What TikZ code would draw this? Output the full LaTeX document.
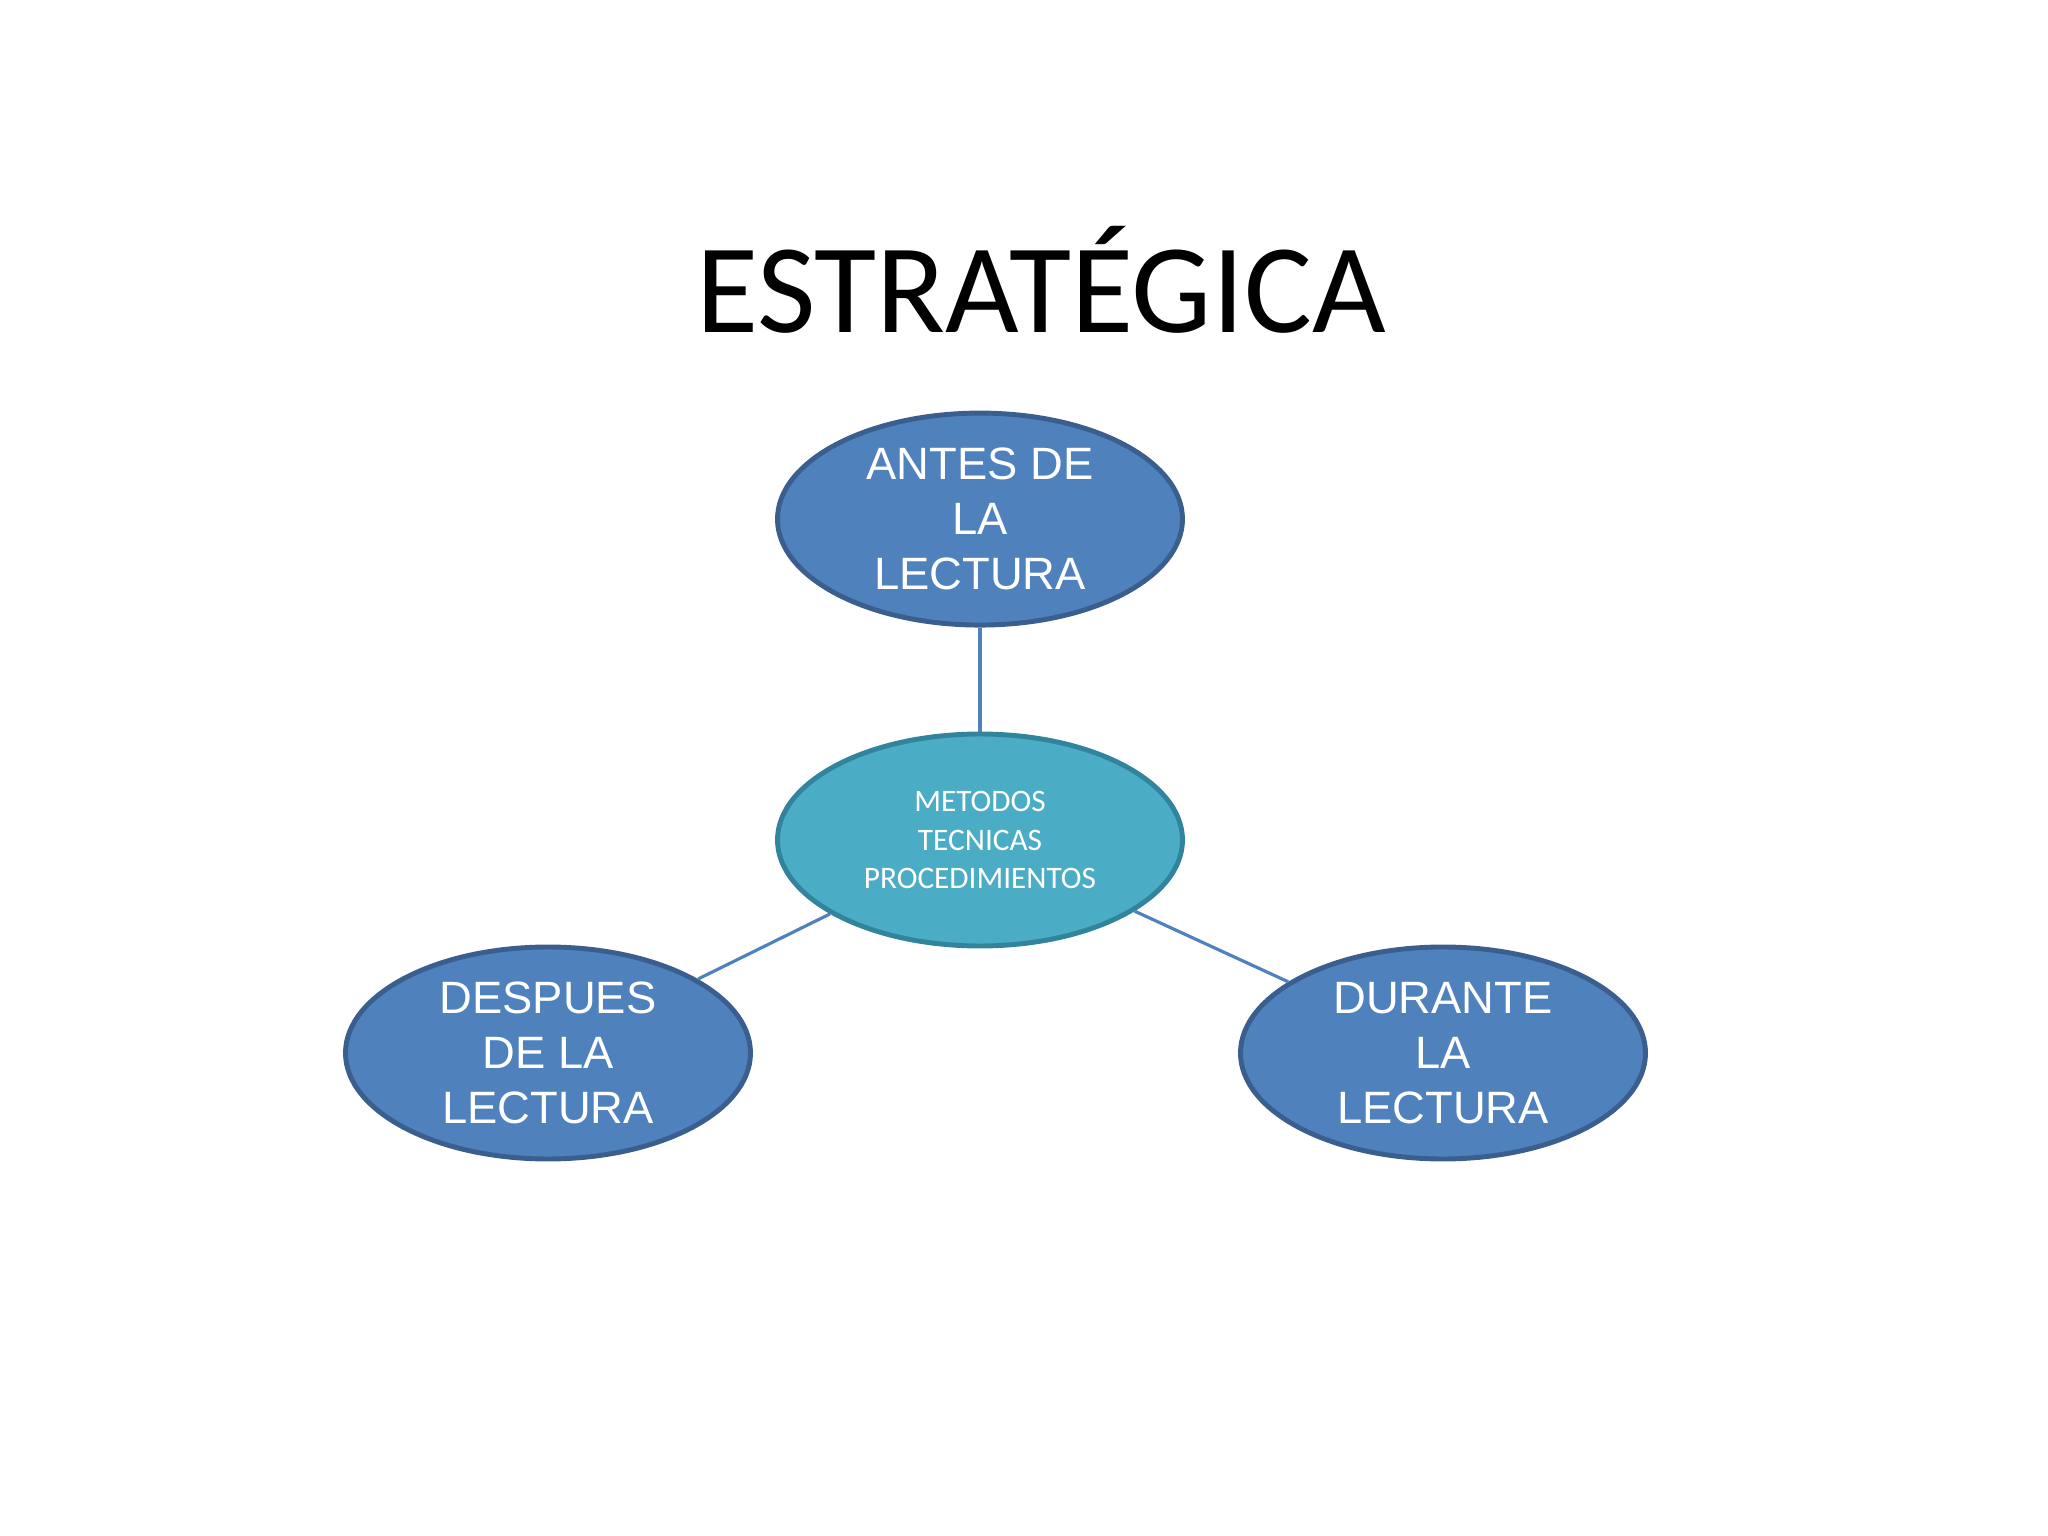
\documentclass[tikz,border=0pt]{standalone}
\usepackage{fontspec}
\setmainfont{Liberation Sans}
\newfontfamily\calibri{Carlito}
\usepackage{tikz}
\usetikzlibrary{shapes.geometric,positioning}
\definecolor{ovblue}{HTML}{4F81BD}
\definecolor{ovedge}{HTML}{3A5F8E}
\definecolor{ovaqua}{HTML}{4BACC6}
\definecolor{ovaquaedge}{HTML}{31849B}
\tikzset{
  phase/.style={ellipse, draw=ovedge, line width=1.4pt, fill=ovblue, text=white,
              minimum width=4.05cm, minimum height=2.12cm, inner sep=0pt, align=center,
              font=\fontsize{12.9}{15.6}\selectfont},
  hub/.style={ellipse, draw=ovaquaedge, line width=1.4pt, fill=ovaqua, text=white,
              minimum width=4.05cm, minimum height=2.12cm, inner sep=0pt, align=center,
              font=\calibri\fontsize{8.9}{11}\selectfont},
  link/.style={draw=ovblue, line width=0.9pt}
}

\begin{document}
\begin{tikzpicture}
  \useasboundingbox (0,0) rectangle (20.48,-15.36);
  \node[anchor=base, font=\calibri\fontsize{36.2}{40}\selectfont] (title) at (10.41,-3.33) {ESTRATÉGICA};
  \node[hub] (met) at (9.80,-8.40) {METODOS\\TECNICAS\\PROCEDIMIENTOS};
  \node[phase, above=1.04cm of met] (antes) {ANTES DE\\LA\\LECTURA};
  \node[phase] (despues) at (5.48,-10.53) {DESPUES\\DE LA\\LECTURA};
  \node[phase] (durante) at (14.43,-10.53) {DURANTE\\LA\\LECTURA};
  \draw[link] (antes) -- (met);
  \draw[link] (met) -- (despues);
  \draw[link] (met) -- (durante);
\end{tikzpicture}
\end{document}
